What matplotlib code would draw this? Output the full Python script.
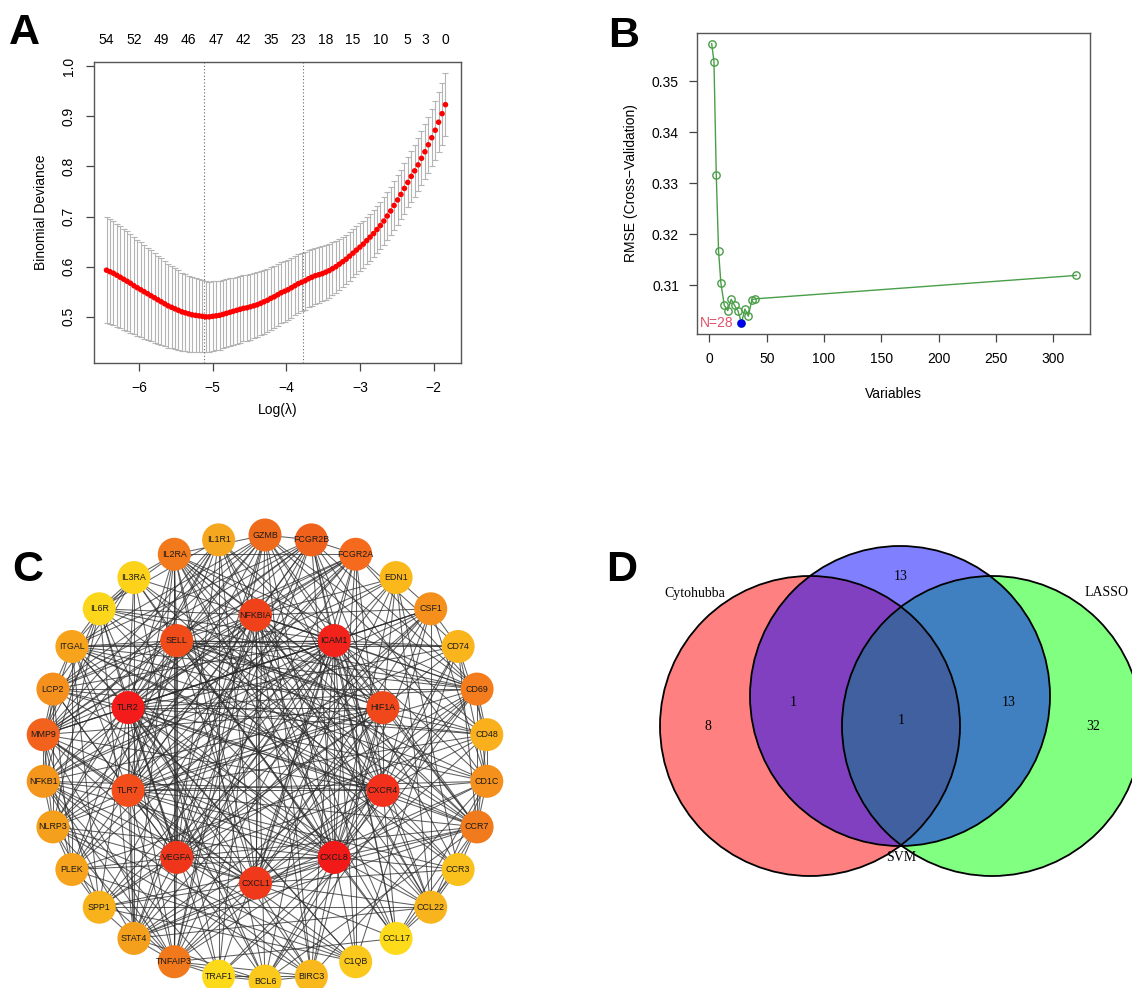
import numpy as np
import matplotlib.pyplot as plt
from matplotlib.patches import Circle
from matplotlib.collections import LineCollection

plt.rcParams['font.family'] = ['Liberation Sans', 'DejaVu Sans']

W, H = 1132, 988

# ---------------- A: LASSO cross-validation ----------------
log_lambda = [-6.440, -6.394, -6.347, -6.301, -6.254, -6.208, -6.161, -6.115, -6.068, -6.022,
              -5.975, -5.929, -5.882, -5.836, -5.789, -5.743, -5.697, -5.650, -5.604, -5.557,
              -5.511, -5.464, -5.418, -5.371, -5.325, -5.278, -5.232, -5.186, -5.139, -5.093,
              -5.046, -5.000, -4.953, -4.907, -4.860, -4.814, -4.767, -4.721, -4.675, -4.628,
              -4.582, -4.535, -4.489, -4.442, -4.396, -4.349, -4.303, -4.256, -4.210, -4.164,
              -4.117, -4.071, -4.024, -3.978, -3.931, -3.885, -3.838, -3.792, -3.745, -3.699,
              -3.653, -3.606, -3.560, -3.513, -3.467, -3.420, -3.374, -3.327, -3.281, -3.234,
              -3.188, -3.142, -3.095, -3.049, -3.002, -2.956, -2.909, -2.863, -2.816, -2.770,
              -2.723, -2.677, -2.631, -2.584, -2.538, -2.491, -2.445, -2.398, -2.352, -2.305,
              -2.259, -2.212, -2.166, -2.120, -2.073, -2.027, -1.980, -1.934, -1.887, -1.841]
deviance = [0.593, 0.590, 0.587, 0.583, 0.579, 0.575, 0.571, 0.567, 0.562, 0.558,
            0.554, 0.550, 0.546, 0.542, 0.538, 0.534, 0.530, 0.526, 0.522, 0.519,
            0.516, 0.513, 0.510, 0.508, 0.506, 0.504, 0.503, 0.502, 0.501, 0.500,
            0.500, 0.501, 0.502, 0.503, 0.505, 0.507, 0.509, 0.511, 0.513, 0.515,
            0.517, 0.518, 0.520, 0.522, 0.524, 0.527, 0.530, 0.533, 0.537, 0.540,
            0.544, 0.548, 0.551, 0.554, 0.558, 0.562, 0.566, 0.569, 0.572, 0.576,
            0.579, 0.582, 0.584, 0.586, 0.589, 0.592, 0.596, 0.600, 0.605, 0.610,
            0.615, 0.621, 0.627, 0.633, 0.639, 0.645, 0.652, 0.659, 0.666, 0.674,
            0.682, 0.691, 0.701, 0.711, 0.722, 0.733, 0.744, 0.756, 0.768, 0.780,
            0.791, 0.803, 0.816, 0.829, 0.843, 0.857, 0.872, 0.888, 0.905, 0.923]
deviance_sd = [0.106, 0.105, 0.104, 0.103, 0.102, 0.101, 0.100, 0.099, 0.097, 0.096,
               0.095, 0.094, 0.092, 0.091, 0.090, 0.088, 0.087, 0.085, 0.084, 0.082,
               0.081, 0.080, 0.078, 0.077, 0.076, 0.075, 0.074, 0.073, 0.072, 0.071,
               0.070, 0.070, 0.069, 0.069, 0.068, 0.068, 0.068, 0.067, 0.067, 0.067,
               0.066, 0.066, 0.066, 0.065, 0.065, 0.064, 0.064, 0.063, 0.063, 0.062,
               0.062, 0.061, 0.061, 0.060, 0.060, 0.059, 0.059, 0.058, 0.058, 0.057,
               0.057, 0.056, 0.056, 0.055, 0.055, 0.054, 0.053, 0.052, 0.051, 0.050,
               0.049, 0.049, 0.048, 0.048, 0.048, 0.047, 0.047, 0.047, 0.047, 0.047,
               0.047, 0.047, 0.048, 0.048, 0.048, 0.049, 0.049, 0.050, 0.050, 0.051,
               0.052, 0.053, 0.054, 0.055, 0.056, 0.057, 0.059, 0.060, 0.062, 0.063]
top_pos = [-6.440, -6.068, -5.697, -5.325, -4.953, -4.582, -4.210, -3.838,
           -3.467, -3.095, -2.723, -2.352, -2.120, -1.841]
top_nzero = [54, 52, 49, 46, 47, 42, 35, 23, 18, 15, 10, 5, 3, 0]
lambda_min = -5.12
lambda_1se = -3.78

# ---------------- B: SVM-RFE ----------------
n_vars = [2, 4, 6, 8, 10, 13, 16, 19, 22, 25, 28, 31, 34, 37, 40, 320]
rmse = [0.3574, 0.3539, 0.3317, 0.3167, 0.3105, 0.3060, 0.3050, 0.3072,
        0.3060, 0.3049, 0.3026, 0.3053, 0.3039, 0.3071, 0.3073, 0.3119]
best_n = 28

# ---------------- C: PPI network ----------------
outer_genes = ['GZMB', 'FCGR2B', 'FCGR2A', 'EDN1', 'CSF1', 'CD74', 'CD69', 'CD48',
               'CD1C', 'CCR7', 'CCR3', 'CCL22', 'CCL17', 'C1QB', 'BIRC3', 'BCL6',
               'TRAF1', 'TNFAIP3', 'STAT4', 'SPP1', 'PLEK', 'NLRP3', 'NFKB1', 'MMP9',
               'LCP2', 'ITGAL', 'IL6R', 'IL3RA', 'IL2RA', 'IL1R1']
hub_genes = ['NFKBIA', 'ICAM1', 'HIF1A', 'CXCR4', 'CXCL8', 'CXCL1', 'VEGFA',
             'TLR7', 'TLR2', 'SELL']
node_color = {
    'TLR2': '#F41C1A', 'ICAM1': '#F2231A', 'CXCL8': '#F21A18', 'CXCR4': '#F3301C',
    'VEGFA': '#F0361A', 'CXCL1': '#F0381A', 'NFKBIA': '#F0421A', 'SELL': '#F24B1A',
    'HIF1A': '#F0481A', 'TLR7': '#F34D1C',
    'GZMB': '#F06A1C', 'FCGR2B': '#F0621C', 'FCGR2A': '#F56A1C', 'IL2RA': '#F37A1C',
    'IL1R1': '#F5A81F', 'EDN1': '#FBB81A', 'CSF1': '#F5901C', 'CD74': '#FAB41C',
    'CD69': '#F57C1C', 'CD48': '#FAB01C', 'CD1C': '#F5901C', 'CCR7': '#F07A1C',
    'CCR3': '#FAC01C', 'CCL22': '#F8B41C', 'CCL17': '#FDDA1A', 'C1QB': '#FBC81C',
    'BIRC3': '#F9B81C', 'BCL6': '#FBC81C', 'TRAF1': '#FCDA1A', 'TNFAIP3': '#F2781C',
    'STAT4': '#F5A01C', 'SPP1': '#F8B21C', 'PLEK': '#F7A41C', 'NLRP3': '#F5A01C',
    'NFKB1': '#F5961C', 'MMP9': '#F2621C', 'LCP2': '#F5901C', 'ITGAL': '#F7A41C',
    'IL6R': '#FCD61A', 'IL3RA': '#FCD21A',
}
links = {
    'GZMB': 'TLR2 ICAM1 CXCL8 CXCR4 VEGFA CXCL1 SELL TLR7 IL2RA FCGR2B CCR7 CD69 MMP9 TNFAIP3 STAT4 ITGAL LCP2 CD48 BIRC3',
    'FCGR2B': 'TLR2 ICAM1 CXCL8 CXCR4 VEGFA NFKBIA SELL HIF1A TLR7 FCGR2A CD69 MMP9 TNFAIP3 LCP2 ITGAL CCL17 CD1C SPP1',
    'FCGR2A': 'TLR2 ICAM1 CXCL8 CXCR4 VEGFA CXCL1 NFKBIA SELL TLR7 IL2RA CD69 MMP9 NLRP3 LCP2 CD74 PLEK C1QB',
    'IL2RA': 'TLR2 ICAM1 CXCL8 CXCR4 VEGFA CXCL1 NFKBIA SELL HIF1A TLR7 IL3RA IL6R CCR7 CD69 STAT4 TNFAIP3 CCL22 CCL17 BCL6',
    'IL1R1': 'TLR2 ICAM1 CXCL8 VEGFA CXCL1 NFKBIA HIF1A TLR7 IL6R NFKB1 MMP9 NLRP3 CCL22 TRAF1',
    'EDN1': 'ICAM1 CXCL8 VEGFA CXCL1 NFKBIA HIF1A MMP9 CSF1 NFKB1 CCR3 CCL22',
    'CSF1': 'TLR2 ICAM1 CXCL8 CXCR4 VEGFA CXCL1 NFKBIA TLR7 CD74 MMP9 NFKB1 STAT4 SPP1 CCL22 CD1C',
    'CD74': 'TLR2 ICAM1 CXCL8 CXCR4 SELL HIF1A TLR7 CD1C CCR7 CD48 ITGAL C1QB',
    'CD69': 'TLR2 ICAM1 CXCL8 CXCR4 VEGFA CXCL1 NFKBIA SELL TLR7 CD48 CCR7 CD1C STAT4 ITGAL LCP2 BCL6 IL6R',
    'CD48': 'TLR2 ICAM1 CXCR4 SELL TLR7 CD1C CCR7 ITGAL LCP2 PLEK TRAF1',
    'CD1C': 'TLR2 ICAM1 CXCL8 CXCR4 SELL TLR7 CCR7 ITGAL CCL22 CCL17 STAT4 BIRC3',
    'CCR7': 'TLR2 ICAM1 CXCL8 CXCR4 VEGFA CXCL1 NFKBIA SELL HIF1A TLR7 CCR3 CCL22 CCL17 STAT4 ITGAL BCL6 IL3RA',
    'CCR3': 'ICAM1 CXCL8 CXCR4 CXCL1 TLR7 CCL22 CCL17 IL3RA IL6R',
    'CCL22': 'TLR2 ICAM1 CXCL8 CXCR4 CXCL1 NFKBIA SELL CCL17 STAT4 SPP1',
    'CCL17': 'ICAM1 CXCL8 CXCR4 CXCL1 SELL NFKBIA TNFAIP3',
    'C1QB': 'TLR2 ICAM1 CXCL8 VEGFA SPP1 ITGAL PLEK NLRP3 MMP9',
    'BIRC3': 'TLR2 ICAM1 CXCL8 CXCL1 NFKBIA HIF1A TLR7 TRAF1 NFKB1 TNFAIP3 BCL6 NLRP3',
    'BCL6': 'TLR2 ICAM1 CXCL8 CXCR4 NFKBIA VEGFA STAT4 TRAF1 TNFAIP3 IL6R',
    'TRAF1': 'TLR2 NFKBIA CXCL8 ICAM1 TNFAIP3 NFKB1 IL3RA',
    'TNFAIP3': 'TLR2 ICAM1 CXCL8 CXCR4 VEGFA CXCL1 NFKBIA SELL HIF1A TLR7 NFKB1 NLRP3 MMP9 STAT4 PLEK',
    'STAT4': 'TLR2 ICAM1 CXCL8 CXCR4 VEGFA NFKBIA TLR7 NFKB1 IL6R IL3RA SPP1',
    'SPP1': 'TLR2 ICAM1 CXCL8 VEGFA CXCL1 HIF1A MMP9 ITGAL NLRP3 PLEK',
    'PLEK': 'TLR2 ICAM1 CXCL8 VEGFA SELL TLR7 ITGAL LCP2 NLRP3 MMP9',
    'NLRP3': 'TLR2 ICAM1 CXCL8 CXCL1 NFKBIA TLR7 HIF1A NFKB1 MMP9 LCP2 IL6R',
    'NFKB1': 'TLR2 ICAM1 CXCL8 CXCR4 VEGFA CXCL1 NFKBIA HIF1A TLR7 MMP9 LCP2 IL6R',
    'MMP9': 'TLR2 ICAM1 CXCL8 CXCR4 VEGFA CXCL1 NFKBIA SELL HIF1A TLR7 LCP2 ITGAL IL6R IL3RA',
    'LCP2': 'TLR2 ICAM1 CXCL8 CXCR4 VEGFA SELL TLR7 ITGAL IL3RA',
    'ITGAL': 'TLR2 ICAM1 CXCL8 CXCR4 SELL TLR7 VEGFA IL3RA IL6R',
    'IL6R': 'TLR2 ICAM1 CXCL8 VEGFA HIF1A NFKBIA IL3RA',
    'IL3RA': 'TLR2 ICAM1 CXCL8 SELL',
}

# ---------------- D: Venn ----------------
venn_sets = ['Cytohubba', 'SVM', 'LASSO']
venn_counts = {'C': 8, 'S': 13, 'L': 32, 'CS': 1, 'SL': 13, 'CSL': 1}

fig = plt.figure(figsize=(W / 100, H / 100), dpi=100)


def fx(px):
    return px / W


def fy(py):
    return 1 - py / H


# ---- panel A
axA = fig.add_axes([fx(94), fy(363), fx(461) - fx(94), fy(62) - fy(363)])
axA.errorbar(log_lambda, deviance, yerr=deviance_sd, fmt='none', ecolor='#B4B4B4',
             elinewidth=0.8, capsize=2.2, capthick=0.8, zorder=1)
axA.scatter(log_lambda, deviance, s=16, color='red', edgecolors='none', zorder=3)
for v in (lambda_min, lambda_1se):
    axA.axvline(v, color='#666666', ls=(0, (1, 2)), lw=0.8, zorder=2)
axA.set_xlim(-6.61, -1.63)
axA.set_ylim(0.408, 1.008)
axA.set_xticks([-6, -5, -4, -3, -2])
axA.set_yticks([0.5, 0.6, 0.7, 0.8, 0.9, 1.0])
axA.set_yticklabels(['0.5', '0.6', '0.7', '0.8', '0.9', '1.0'], rotation=90, va='center')
axA.tick_params(length=6, width=0.9, labelsize=10, color='#444444', pad=7)
axA.set_xlabel('Log(\u03bb)', fontsize=10, labelpad=6)
axA.set_ylabel('Binomial Deviance', fontsize=10, labelpad=10)
for sp in axA.spines.values():
    sp.set_color('#555555')
    sp.set_linewidth(1.0)
axA_top = axA.twiny()
axA_top.set_xlim(axA.get_xlim())
axA_top.set_xticks(top_pos)
axA_top.set_xticklabels([str(n) for n in top_nzero])
axA_top.tick_params(length=0, labelsize=10, pad=11)
for sp in axA_top.spines.values():
    sp.set_visible(False)

# ---- panel B
axB = fig.add_axes([fx(697), fy(334), fx(1090) - fx(697), fy(33) - fy(334)])
axB.plot(n_vars, rmse, color='#4A9E48', lw=1.0, marker='o', ms=5.3,
         mfc='none', mec='#4A9E48', mew=1.0)
best_rmse = rmse[n_vars.index(best_n)]
axB.plot([best_n], [best_rmse], 'o', color='#0000EE', ms=5, zorder=4)
axB.annotate('N=%d' % best_n, (best_n, best_rmse), xytext=(-6, 0),
             textcoords='offset points', ha='right', va='center',
             color='#DF536B', fontsize=10)
axB.set_xlim(-10.8, 332)
axB.set_ylim(0.3004, 0.3595)
axB.set_xticks([0, 50, 100, 150, 200, 250, 300])
axB.set_yticks([0.31, 0.32, 0.33, 0.34, 0.35])
axB.set_yticklabels(['0.31', '0.32', '0.33', '0.34', '0.35'])
axB.tick_params(length=6, width=0.9, labelsize=10, color='#444444', pad=7)
axB.set_xlabel('Variables', fontsize=10, labelpad=15)
axB.set_ylabel('RMSE (Cross\u2212Validation)', fontsize=10, labelpad=10)
for sp in axB.spines.values():
    sp.set_color('#555555')
    sp.set_linewidth(1.0)

# ---- lower half (C and D), in pixel coordinates
axL = fig.add_axes([0, 0, 1, fy(470)])
axL.set_xlim(0, W)
axL.set_ylim(H, 470)
axL.axis('off')

pos = {}
for k, g in enumerate(outer_genes):
    a = np.deg2rad(90 - 12 * k)
    pos[g] = (265 + 223 * np.cos(a), 758 - 223 * np.sin(a))
for k, g in enumerate(hub_genes):
    a = np.deg2rad(90 - 36 * k)
    pos[g] = (255.5 + 134 * np.cos(a), 749 - 134 * np.sin(a))

segs = []
for i, a in enumerate(hub_genes):
    for b in hub_genes[i + 1:]:
        segs.append([pos[a], pos[b]])
for a, nbrs in links.items():
    for b in nbrs.split():
        segs.append([pos[a], pos[b]])
axL.add_collection(LineCollection(segs, colors='#2b2b2b', linewidths=0.75,
                                  alpha=0.75, zorder=1))
for g, (x, y) in pos.items():
    axL.add_patch(Circle((x, y), 16.5, facecolor=node_color[g], edgecolor='none', zorder=2))
    axL.text(x, y, g, ha='center', va='center', fontsize=6.4, color='#1a1a1a', zorder=3)

# Venn
cL = Circle((810, 726), 150)
cS = Circle((900, 696), 150)
cR = Circle((992, 726), 150)
for c, col in ((cL, '#FF8080'), (cR, '#80FF80'), (cS, '#8080FF')):
    axL.add_patch(Circle(c.center, c.radius, facecolor=col, edgecolor='none', zorder=1))
for base, clip, col in ((cS, cL, '#8040C0'), (cS, cR, '#4080C0'), (cR, cL, '#4060A0')):
    p = Circle(base.center, base.radius, facecolor=col, edgecolor='none', zorder=2)
    axL.add_patch(p)
    cp = Circle(clip.center, clip.radius, transform=axL.transData)
    p.set_clip_path(cp)
for c in (cL, cS, cR):
    axL.add_patch(Circle(c.center, c.radius, facecolor='none', edgecolor='black', lw=1.3, zorder=3))

serif = ['Liberation Serif', 'DejaVu Serif']
axL.text(695, 593, venn_sets[0], ha='center', va='center', fontsize=10, family=serif)
axL.text(901, 857, venn_sets[1], ha='center', va='center', fontsize=10, family=serif)
axL.text(1107, 593, venn_sets[2], ha='center', va='center', fontsize=10, family=serif)
count_xy = {'C': (708, 727), 'S': (901, 577), 'L': (1093, 727),
            'CS': (793, 702), 'SL': (1009, 702), 'CSL': (901, 721)}
for key, n in venn_counts.items():
    x, y = count_xy[key]
    axL.text(x, y, str(n), ha='center', va='center', fontsize=10, family=serif, zorder=4)

# panel letters
for lab, (x, y) in {'A': (24, 33), 'B': (624, 36), 'C': (28, 570), 'D': (622, 570)}.items():
    fig.text(fx(x), fy(y), lab, ha='center', va='center', fontsize=31, fontweight='bold')

fig.savefig('out.png', dpi=100)
